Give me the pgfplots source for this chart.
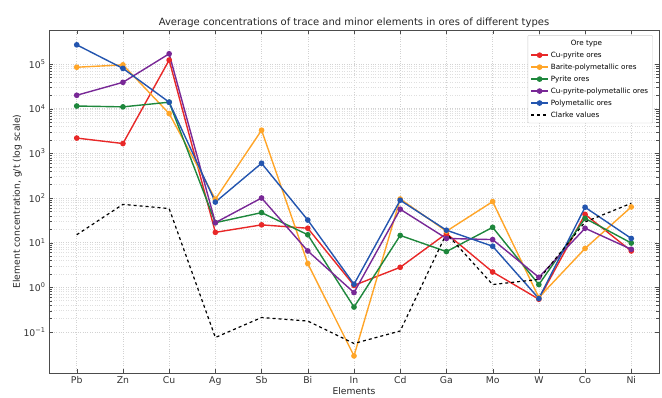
\documentclass[border=0pt]{standalone}
\usepackage{pgfplots}
\pgfplotsset{compat=1.18}
\usepackage{fontspec}
\setmainfont{DejaVu Sans}
\definecolor{cred}{RGB}{232,40,40}
\definecolor{corange}{RGB}{255,165,40}
\definecolor{cgreen}{RGB}{30,135,60}
\definecolor{cpurple}{RGB}{120,40,150}
\definecolor{cblue}{RGB}{35,85,175}
\begin{document}
\begin{tikzpicture}
\useasboundingbox (-49pt,-24pt) rectangle (613pt,373pt);
\begin{axis}[
  scale only axis, width=610pt, height=343pt,
  ymode=log, ymin=0.012, ymax=5.8e5,
  xmin=-0.6, xmax=12.6,
  xtick={0,...,12},
  xticklabels={Pb,Zn,Cu,Ag,Sb,Bi,In,Cd,Ga,Mo,W,Co,Ni},
  ytick={0.1,1,10,100,1000,10000,100000},
  yticklabels={10\textsuperscript{−1},10\textsuperscript{0},10\textsuperscript{1},10\textsuperscript{2},10\textsuperscript{3},10\textsuperscript{4},10\textsuperscript{5}},
  tick label style={font=\fontsize{9.3}{10}\selectfont, text=black!80},
  grid=both,
  major grid style={gray!35, dotted, line width=0.5pt},
  minor grid style={gray!25, dotted, line width=0.4pt},
  axis line style={black!70, line width=0.9pt},
  tick style={black!70},
  title={Average concentrations of trace and minor elements in ores of different types},
  title style={font=\fontsize{10}{11}\selectfont, text=black!85, yshift=-7pt},
  xlabel={Elements}, ylabel={Element concentration, g/t (log scale)},
  label style={font=\fontsize{9.2}{10}\selectfont, text=black!85},
  xlabel style={yshift=5pt},
  ylabel style={yshift=-5pt},
  legend style={at={(0.99,0.985)}, anchor=north east, font=\fontsize{7.2}{8}\selectfont, draw=black!20, rounded corners=1pt, row sep=1pt, inner sep=2.5pt},
  legend cell align=left,
  every axis plot/.append style={line width=1.4pt, mark=*, mark size=2.1pt},
]
\addlegendimage{empty legend}\addlegendentry{\hspace*{20pt}Ore type}
\addplot[cred, mark options={fill=cred}] coordinates {(0,2200)(1,1660)(2,123000)(3,17)(4,25)(5,21)(6,1.1)(7,2.8)(8,16)(9,2.2)(10,0.54)(11,43)(12,6.5)};
\addlegendentry{Cu-pyrite ores}
\addplot[corange, mark options={fill=corange}] coordinates {(0,85000)(1,96000)(2,7800)(3,94)(4,3300)(5,3.4)(6,0.029)(7,95)(8,18)(9,83)(10,0.59)(11,7.4)(12,63)};
\addlegendentry{Barite-polymetallic ores}
\addplot[cgreen, mark options={fill=cgreen}] coordinates {(0,11500)(1,11000)(2,14000)(3,28)(4,47)(5,15)(6,0.36)(7,14.5)(8,6.3)(9,22)(10,1.15)(11,35)(12,9.8)};
\addlegendentry{Pyrite ores}
\addplot[cpurple, mark options={fill=cpurple}] coordinates {(0,20000)(1,39000)(2,170000)(3,28)(4,100)(5,6.5)(6,0.76)(7,56)(8,12.4)(9,11.7)(10,1.67)(11,21)(12,7.1)};
\addlegendentry{Cu-pyrite-polymetallic ores}
\addplot[cblue, mark options={fill=cblue}] coordinates {(0,270000)(1,80000)(2,14000)(3,81)(4,600)(5,32)(6,1.17)(7,89)(8,19)(9,8.3)(10,0.56)(11,62)(12,12.4)};
\addlegendentry{Polymetallic ores}
\addplot[black, dashed, mark=none, line width=1.2pt] coordinates {(0,15)(1,72)(2,58)(3,0.075)(4,0.21)(5,0.175)(6,0.055)(7,0.105)(8,16)(9,1.15)(10,1.5)(11,29)(12,76)};
\addlegendentry{Clarke values}
\end{axis}
\end{tikzpicture}
\end{document}
